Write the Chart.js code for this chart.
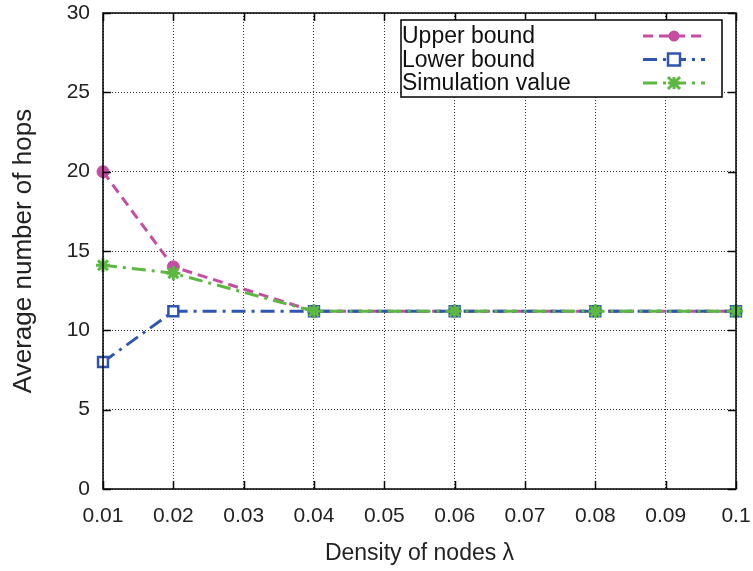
<!DOCTYPE html>
<html>
<head>
<meta charset="utf-8">
<script src="https://cdn.jsdelivr.net/npm/chart.js@4"></script>
<style>
  html, body { margin: 0; padding: 0; background: #fff; }
  #wrap { width: 753px; height: 571px; }
</style>
</head>
<body>
<div id="wrap"><canvas id="hopsChart"></canvas></div>
<script>
// Data
const densities = [0.01, 0.02, 0.04, 0.06, 0.08, 0.1];
const upperBound = [20, 14, 11.2, 11.2, 11.2, 11.2];
const lowerBound = [8, 11.2, 11.2, 11.2, 11.2, 11.2];
const simulation = [14.1, 13.6, 11.2, 11.2, 11.2, 11.2];
const xTickLabels = ['0.01', '0.02', '0.03', '0.04', '0.05', '0.06', '0.07', '0.08', '0.09', '0.1'];
const yTickLabels = ['0', '5', '10', '15', '20', '25', '30'];
const seriesNames = ['Upper bound', 'Lower bound', 'Simulation value'];

const FONT = "'Liberation Sans', Arial, sans-serif";

function toPoints(values) {
  return values.map((v, i) => ({ x: densities[i], y: v }));
}

// gnuplot style frame: border box, inward ticks and a boxed legend
const framePlugin = {
  id: 'frame',
  afterDraw(chart) {
    const { ctx, chartArea: a, scales } = chart;
    ctx.save();
    ctx.strokeStyle = '#000';
    ctx.lineWidth = 1.5;
    ctx.setLineDash([]);
    ctx.strokeRect(a.left, a.top, a.right - a.left, a.bottom - a.top);

    const len = 8;
    ctx.beginPath();
    scales.x.ticks.forEach(t => {
      const x = Math.round(scales.x.getPixelForValue(t.value)) + 0.5;
      ctx.moveTo(x, a.bottom); ctx.lineTo(x, a.bottom - len);
      ctx.moveTo(x, a.top); ctx.lineTo(x, a.top + len);
    });
    scales.y.ticks.forEach(t => {
      const y = Math.round(scales.y.getPixelForValue(t.value)) + 0.5;
      ctx.moveTo(a.left, y); ctx.lineTo(a.left + len, y);
      ctx.moveTo(a.right, y); ctx.lineTo(a.right - len, y);
    });
    ctx.stroke();

    // legend box
    const bx = a.left + 298, by = a.top + 7, bw = 321, bh = 77;
    ctx.fillStyle = '#fff';
    ctx.fillRect(bx, by, bw, bh);
    ctx.lineWidth = 1.5;
    ctx.strokeRect(bx, by, bw, bh);

    ctx.font = '23px ' + FONT;
    ctx.textBaseline = 'middle';
    ctx.textAlign = 'left';
    chart.data.datasets.forEach((ds, i) => {
      const y = by + 16 + i * 23.5;
      ctx.fillStyle = '#111';
      ctx.fillText(seriesNames[i], bx + 1, y + 1);
      ctx.strokeStyle = ds.borderColor;
      ctx.lineWidth = ds.borderWidth;
      ctx.setLineDash(ds.borderDash);
      ctx.beginPath();
      ctx.moveTo(bx + 242, y);
      ctx.lineTo(bx + 304, y);
      ctx.stroke();
      ctx.setLineDash([]);
      const m = ds.legendMark;
      ctx.beginPath();
      if (m === 'circle') {
        ctx.fillStyle = ds.borderColor;
        ctx.arc(bx + 273, y, 5.5, 0, Math.PI * 2);
        ctx.fill();
      } else if (m === 'rect') {
        ctx.fillStyle = '#fff';
        ctx.lineWidth = 2.5;
        ctx.fillRect(bx + 267, y - 6, 12, 12);
        ctx.strokeRect(bx + 267, y - 6, 12, 12);
      } else {
        ctx.lineWidth = 3;
        const cx = bx + 273, r = 6;
        ctx.moveTo(cx - r, y - r); ctx.lineTo(cx + r, y + r);
        ctx.moveTo(cx + r, y - r); ctx.lineTo(cx - r, y + r);
        ctx.moveTo(cx - r, y); ctx.lineTo(cx + r, y);
        ctx.moveTo(cx, y - r); ctx.lineTo(cx, y + r);
        ctx.stroke();
      }
    });
    ctx.restore();
  }
};

const ctx = document.getElementById('hopsChart').getContext('2d');
new Chart(ctx, {
  type: 'line',
  data: {
    datasets: [
      {
        label: seriesNames[0],
        data: toPoints(upperBound),
        borderColor: '#c64ca2',
        backgroundColor: '#c64ca2',
        borderWidth: 3,
        borderDash: [10, 6],
        pointStyle: 'circle',
        pointRadius: 6,
        pointBorderWidth: 1,
        legendMark: 'circle',
        order: 2,
        clip: false
      },
      {
        label: seriesNames[1],
        data: toPoints(lowerBound),
        borderColor: '#2d55b2',
        backgroundColor: '#ffffff',
        borderWidth: 3,
        borderDash: [14, 6, 3, 6],
        pointStyle: 'rect',
        pointRadius: 7,
        pointBorderWidth: 2.5,
        legendMark: 'rect',
        order: 1,
        clip: false
      },
      {
        label: seriesNames[2],
        data: toPoints(simulation),
        borderColor: '#5cb841',
        backgroundColor: '#5cb841',
        borderWidth: 3,
        borderDash: [14, 6, 3, 6],
        pointStyle: 'star',
        pointRadius: 7,
        pointBorderWidth: 3,
        legendMark: 'star',
        order: 0,
        clip: false
      }
    ]
  },
  options: {
    responsive: true,
    maintainAspectRatio: false,
    animation: false,
    layout: { padding: { top: 13, right: 17, left: 0, bottom: 0 } },
    plugins: {
      legend: { display: false },
      tooltip: { enabled: false }
    },
    scales: {
      x: {
        type: 'linear',
        min: 0.01,
        max: 0.1,
        afterBuildTicks(scale) {
          scale.ticks = xTickLabels.map(l => ({ value: parseFloat(l) }));
        },
        afterFit(scale) {
          scale.height = 82;
          scale.paddingLeft = 0;
          scale.paddingRight = 0;
        },
        ticks: {
          callback: (value, index) => xTickLabels[index],
          font: { family: FONT, size: 21 },
          color: '#222',
          padding: 15,
          maxRotation: 0,
          autoSkip: false
        },
        grid: { color: '#333', lineWidth: 1, drawTicks: false },
        border: { display: false, dash: [1, 2] },
        title: {
          display: true,
          text: 'Density of nodes λ',
          font: { family: FONT, size: 23 },
          color: '#222',
          padding: { top: 2, bottom: 4 }
        }
      },
      y: {
        min: 0,
        max: 30,
        afterBuildTicks(scale) {
          scale.ticks = yTickLabels.map(l => ({ value: Number(l) }));
        },
        afterFit(scale) {
          scale.width = 103;
          scale.paddingTop = 0;
          scale.paddingBottom = 0;
        },
        ticks: {
          callback: (value, index) => yTickLabels[index],
          font: { family: FONT, size: 21 },
          color: '#222',
          padding: 13
        },
        grid: { color: '#333', lineWidth: 1, drawTicks: false },
        border: { display: false, dash: [1, 2] },
        title: {
          display: true,
          text: 'Average number of hops',
          font: { family: FONT, size: 26 },
          color: '#222',
          padding: { top: 8, bottom: 2 }
        }
      }
    }
  },
  plugins: [framePlugin]
});
</script>
</body>
</html>
